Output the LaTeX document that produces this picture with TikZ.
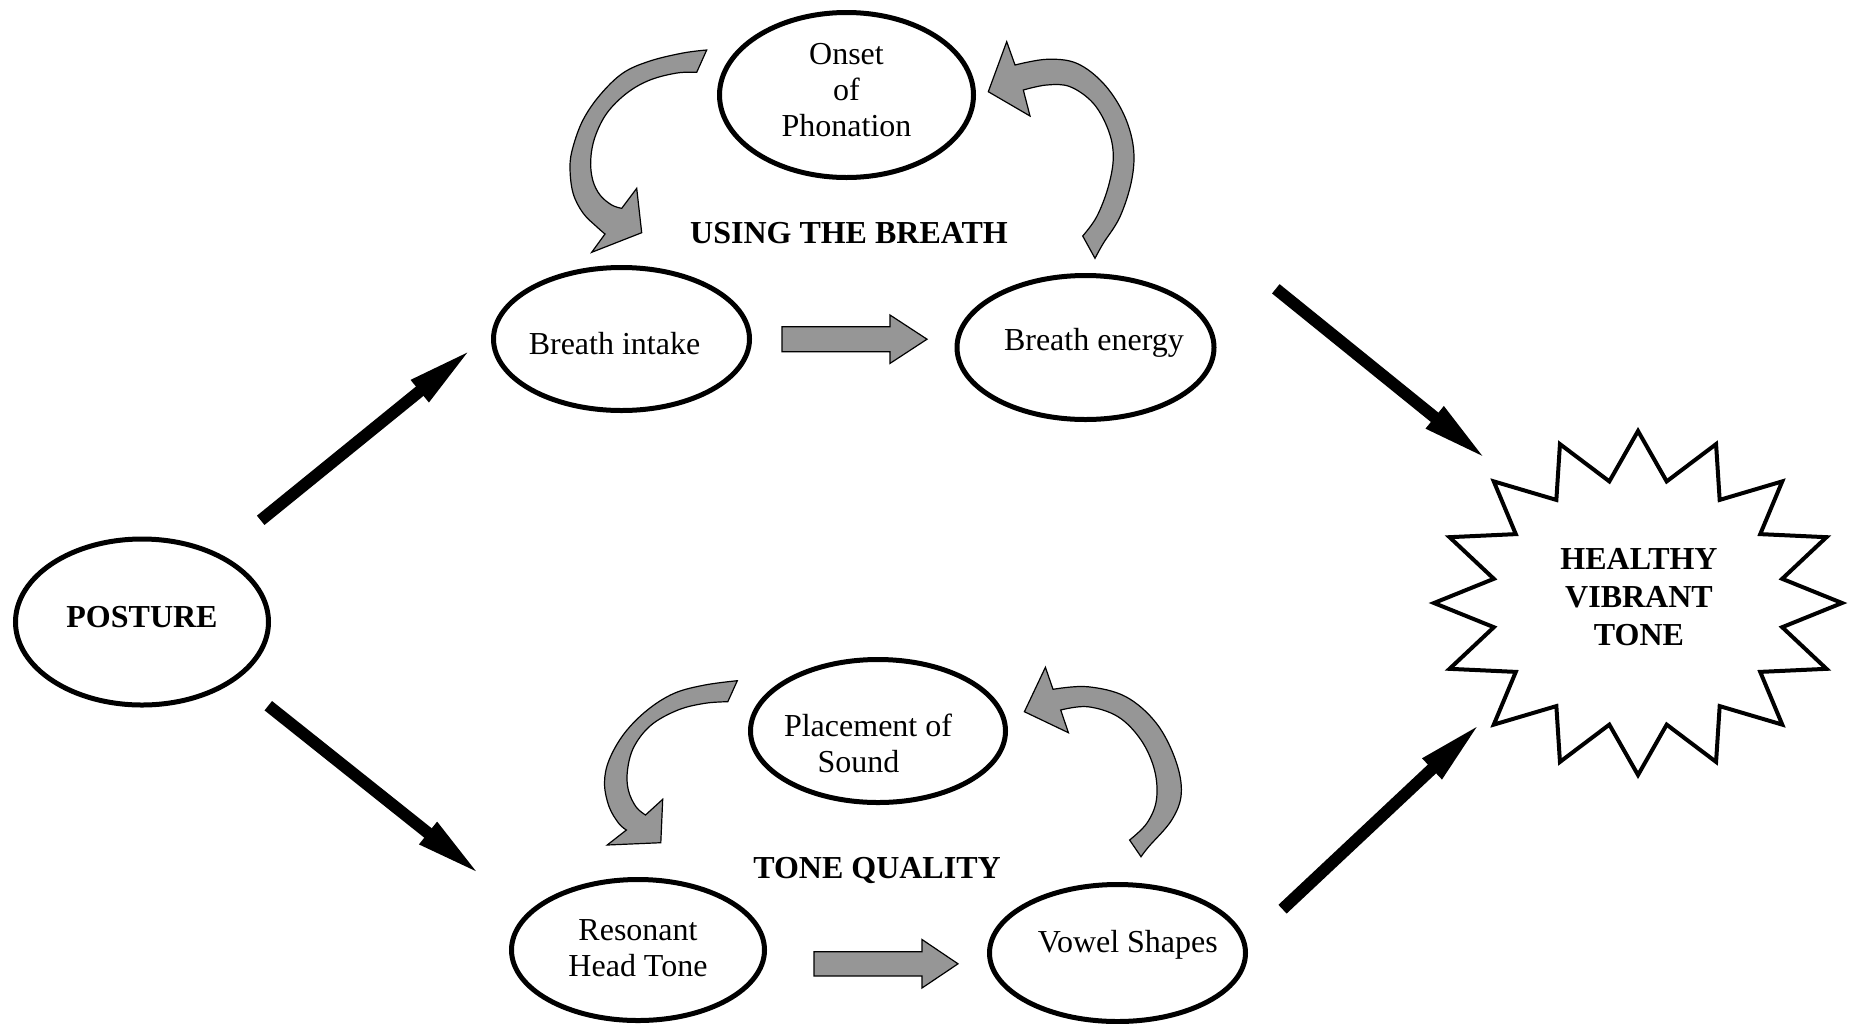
\documentclass[tikz,border=0pt]{standalone}
\usepackage{fontspec}
\setmainfont{Liberation Serif}
\usetikzlibrary{arrows.meta,shapes.geometric}
\definecolor{arrowgray}{RGB}{150,150,150}
\begin{document}
\begin{tikzpicture}[x=0.5pt,y=-0.5pt,
  ell/.style={draw, line width=2.5pt, ellipse, inner sep=0pt},
  lbl/.style={inner sep=0pt, align=center, font=\fontsize{16pt}{18pt}\selectfont},
  boldtxt/.style={inner sep=0pt, align=center, font=\bfseries\fontsize{16pt}{19pt}\selectfont},
  blk/.style={line width=6pt, -{Triangle[length=34.5pt, width=12.5pt]}},
  garrow/.style={fill=arrowgray, draw=black, line width=0.6pt, line join=miter},
  starline/.style={draw=black, line width=2pt, line join=miter, fill=white}]
\fill[white] (0,0) rectangle (1851,1023);
\useasboundingbox (0,0) rectangle (1851,1023);

% ellipse nodes
\node[ell, minimum width=126.5pt, minimum height=83pt,
  label={[boldtxt, yshift=2.4pt]center:POSTURE}] (posture) at (142,622) {};
\node[ell, minimum width=128pt, minimum height=71.5pt,
  label={[lbl, xshift=-3.5pt, yshift=-2.5pt]center:Breath intake}] (intake) at (621.5,339) {};
\node[ell, minimum width=128.5pt, minimum height=72pt,
  label={[lbl, xshift=4.2pt, yshift=2.2pt]center:Breath energy}] (energy) at (1085.5,347.5) {};
\node[ell, minimum width=127pt, minimum height=82.5pt,
  label={[lbl, yshift=2.7pt]center:Onset\\of\\Phonation}] (onset) at (846.5,95) {};
\node[ell, minimum width=127.5pt, minimum height=71.5pt,
  label={[lbl, xshift=-5pt, yshift=-6pt]center:Placement of\\Sound\hspace*{9.5pt}}] (placement) at (878,731) {};
\node[ell, minimum width=126.5pt, minimum height=70.5pt,
  label={[lbl, yshift=1pt]center:Resonant\\Head Tone}] (resonant) at (638,950) {};
\node[ell, minimum width=128pt, minimum height=68.5pt,
  label={[lbl, xshift=5.2pt, yshift=4pt]center:Vowel Shapes}] (vowel) at (1117.5,953) {};

% group labels
\node[boldtxt] (breathlbl) at (849,233) {USING THE BREATH};
\node[boldtxt] (qualitylbl) at (877,870) {TONE QUALITY};

% star
\draw[starline] (1638,431)
  \foreach \k in {1,...,31}{ -- ({1638+(204-57*mod(\k,2))*sin(\k*11.25)},{603-(172-48*mod(\k,2))*cos(\k*11.25)}) } -- cycle;
\node[boldtxt] (tone) at (1639,597) {HEALTHY\\VIBRANT\\TONE};

% black arrows
\coordinate (a1s) at (260.7,520.3); \coordinate (a1e) at (473.3,347.7);
\coordinate (a2s) at (268.3,705.7); \coordinate (a2e) at (482,876);
\coordinate (a3s) at (1275.8,288.8); \coordinate (a3e) at (1488.3,460.7);
\coordinate (a4s) at (1282.5,909.2); \coordinate (a4e) at (1482.3,721.7);
\draw[blk] (a1s) -- (a1e);
\draw[blk] (a2s) -- (a2e);
\draw[blk] (a3s) -- (a3e);
\draw[blk] (a4s) -- (a4e);

% straight gray block arrows
\draw[garrow] (782,326.7) -- (890,326.7) -- (890,315) -- (927,339.2) -- (890,363.4) -- (890,351.7) -- (782,351.7) -- cycle;
\draw[garrow] (814,951.7) -- (922,951.7) -- (922,939.5) -- (958,963.8) -- (922,988) -- (922,976) -- (814,976) -- cycle;

% curved gray arrows
% top-left
\draw[garrow] plot[smooth, tension=0.6] coordinates {(706.7,50) (683,53) (650,61) (623,73) (600,95) (583,120) (573,147) (570,167) (573,193) (583,213) (597,227) (605,234)}
  -- (591.7,252.3) -- (641.7,232.7) -- (636.7,188.3)
  -- plot[smooth, tension=0.6] coordinates {(621.7,208.3) (611.7,205) (600,195) (592.7,180) (590.7,160) (595,137) (607,113) (627,93) (650,80) (677,73) (696.7,72.3)} -- cycle;
% top-right
\draw[garrow] plot[smooth, tension=0.6] coordinates {(1095,258.3) (1103.3,243.3) (1120,216.7) (1131.7,180) (1133.3,146.7) (1123.3,113.3) (1103.3,83.3) (1076.7,63.3) (1046.7,59.3) (1015,65)}
  -- (1006.7,41.7) -- (988.3,91.7) -- (1030,116)
  -- plot[smooth, tension=0.6] coordinates {(1023.3,90) (1046.7,85) (1070,86.7) (1093.3,103.3) (1108.3,130) (1113.3,156.7) (1108.3,186.7) (1096.7,216.7) (1082.7,236)} -- cycle;
% bottom-left
\draw[garrow] plot[smooth, tension=0.6] coordinates {(737.3,680.7) (704.8,685) (674.2,693.3) (647.4,710) (624.4,733.3) (609.1,760) (604.5,783.3) (609.1,806.7) (618.7,823.3) (626.4,830)}
  -- (607.2,845) -- (660.8,842.7) -- (662.7,799.3)
  -- plot[smooth, tension=0.6] coordinates {(645.5,815) (635.9,806.7) (628.3,790) (627.5,770) (634,746.7) (651.2,725) (678,710) (704.8,703.3) (727.8,701.7)} -- cycle;
% bottom-right
\draw[garrow] plot[smooth, tension=0.6] coordinates {(1141,856.7) (1148.7,846.7) (1171.7,820) (1181.3,793.3) (1175.5,760) (1156.4,723.3) (1125.8,696.7) (1087.5,686.7) (1053,689.3)}
  -- (1045.4,667.3) -- (1024.4,711.7) -- (1068.4,732.7)
  -- plot[smooth, tension=0.6] coordinates {(1060.7,710) (1087.5,706.7) (1118,716.7) (1141,740) (1154.5,770) (1156.4,800) (1146.8,823.3) (1129.6,840)} -- cycle;
\end{tikzpicture}
\end{document}
